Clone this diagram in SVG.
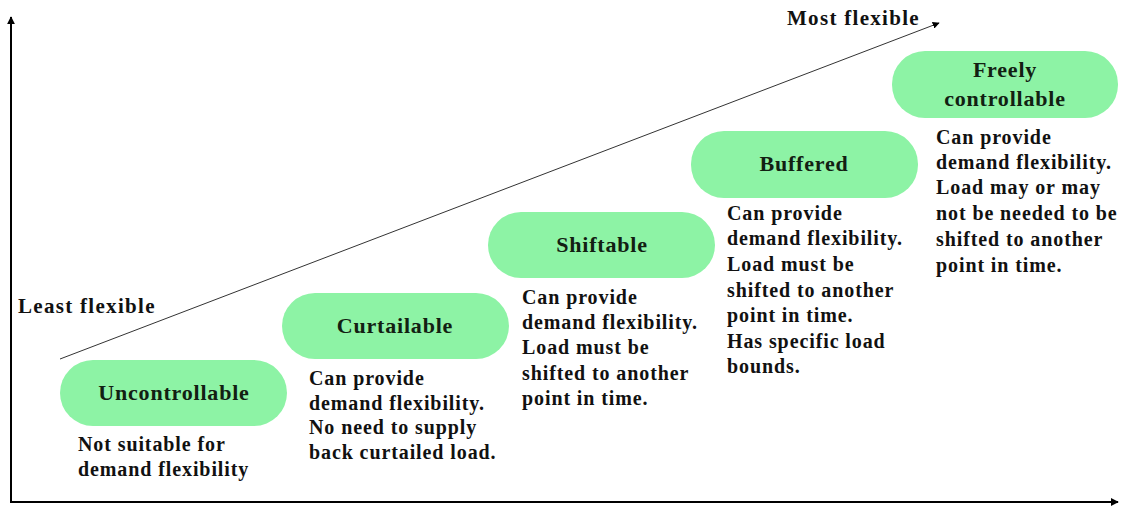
<svg xmlns="http://www.w3.org/2000/svg" width="1130" height="506" viewBox="0 0 1130 506">
  <defs>
    <marker id="arrow" viewBox="0 0 10 10" refX="9" refY="5" markerWidth="4" markerHeight="4" orient="auto" markerUnits="strokeWidth">
      <path d="M0,0 L10,5 L0,10 z" fill="#000"/>
    </marker>
    <marker id="arrowThin" viewBox="0 0 10 10" refX="9" refY="5" markerWidth="7" markerHeight="7" orient="auto" markerUnits="strokeWidth">
      <path d="M0,0 L10,5 L0,10 z" fill="#000"/>
    </marker>
    <style>
      .pill { fill: #8df3a5; }
      .title { font-family: "Liberation Serif", "Times New Roman", serif; font-weight: bold; font-size: 22px; fill: #122012; text-anchor: middle; letter-spacing: 0.8px; }
      .body { font-family: "Liberation Serif", "Times New Roman", serif; font-weight: bold; font-size: 20px; fill: #111; letter-spacing: 0.9px; }
      .label { font-family: "Liberation Serif", "Times New Roman", serif; font-weight: bold; font-size: 21px; fill: #111; letter-spacing: 1.3px; }
    </style>
  </defs>
  <rect width="1130" height="506" fill="#fff"/>

  <!-- axes and flexibility trend line -->
  <g id="connectors">
    <line x1="11" y1="503" x2="11" y2="17" stroke="#000" stroke-width="2" marker-end="url(#arrow)"/>
    <line x1="10" y1="502" x2="1118" y2="502" stroke="#000" stroke-width="2" marker-end="url(#arrow)"/>
    <line x1="60" y1="359" x2="939" y2="23" stroke="#333" stroke-width="1" marker-end="url(#arrowThin)"/>
  </g>

  <g id="axis-labels">
    <text class="label" x="18" y="313">Least flexible</text>
    <text class="label" x="787" y="25">Most flexible</text>
  </g>

  <g id="uncontrollable">
    <rect class="pill" x="60" y="360" width="227" height="66" rx="33"/>
    <text class="title" x="174" y="400">Uncontrollable</text>
    <text class="body" x="78" y="451">Not suitable for</text>
    <text class="body" x="78" y="476">demand flexibility</text>
  </g>

  <g id="curtailable">
    <rect class="pill" x="282" y="293" width="227" height="66" rx="33"/>
    <text class="title" x="395" y="333">Curtailable</text>
    <text class="body" x="309" y="385">Can provide</text>
    <text class="body" x="309" y="410">demand flexibility.</text>
    <text class="body" x="309" y="434">No need to supply</text>
    <text class="body" x="309" y="459">back curtailed load.</text>
  </g>

  <g id="shiftable">
    <rect class="pill" x="488" y="212" width="227" height="66" rx="33"/>
    <text class="title" x="602" y="252">Shiftable</text>
    <text class="body" x="522" y="304">Can provide</text>
    <text class="body" x="522" y="329">demand flexibility.</text>
    <text class="body" x="522" y="354">Load must be</text>
    <text class="body" x="522" y="380">shifted to another</text>
    <text class="body" x="522" y="405">point in time.</text>
  </g>

  <g id="buffered">
    <rect class="pill" x="691" y="131" width="227" height="67" rx="33"/>
    <text class="title" x="804" y="171">Buffered</text>
    <text class="body" x="727" y="220">Can provide</text>
    <text class="body" x="727" y="245">demand flexibility.</text>
    <text class="body" x="727" y="271">Load must be</text>
    <text class="body" x="727" y="297">shifted to another</text>
    <text class="body" x="727" y="322">point in time.</text>
    <text class="body" x="727" y="348">Has specific load</text>
    <text class="body" x="727" y="373">bounds.</text>
  </g>

  <g id="freely-controllable">
    <rect class="pill" x="892" y="51" width="226" height="67" rx="33"/>
    <text class="title" x="1005" y="77">Freely</text>
    <text class="title" x="1005" y="106">controllable</text>
    <text class="body" x="936" y="144">Can provide</text>
    <text class="body" x="936" y="169">demand flexibility.</text>
    <text class="body" x="936" y="194">Load may or may</text>
    <text class="body" x="936" y="220">not be needed to be</text>
    <text class="body" x="936" y="246">shifted to another</text>
    <text class="body" x="936" y="272">point in time.</text>
  </g>
</svg>
